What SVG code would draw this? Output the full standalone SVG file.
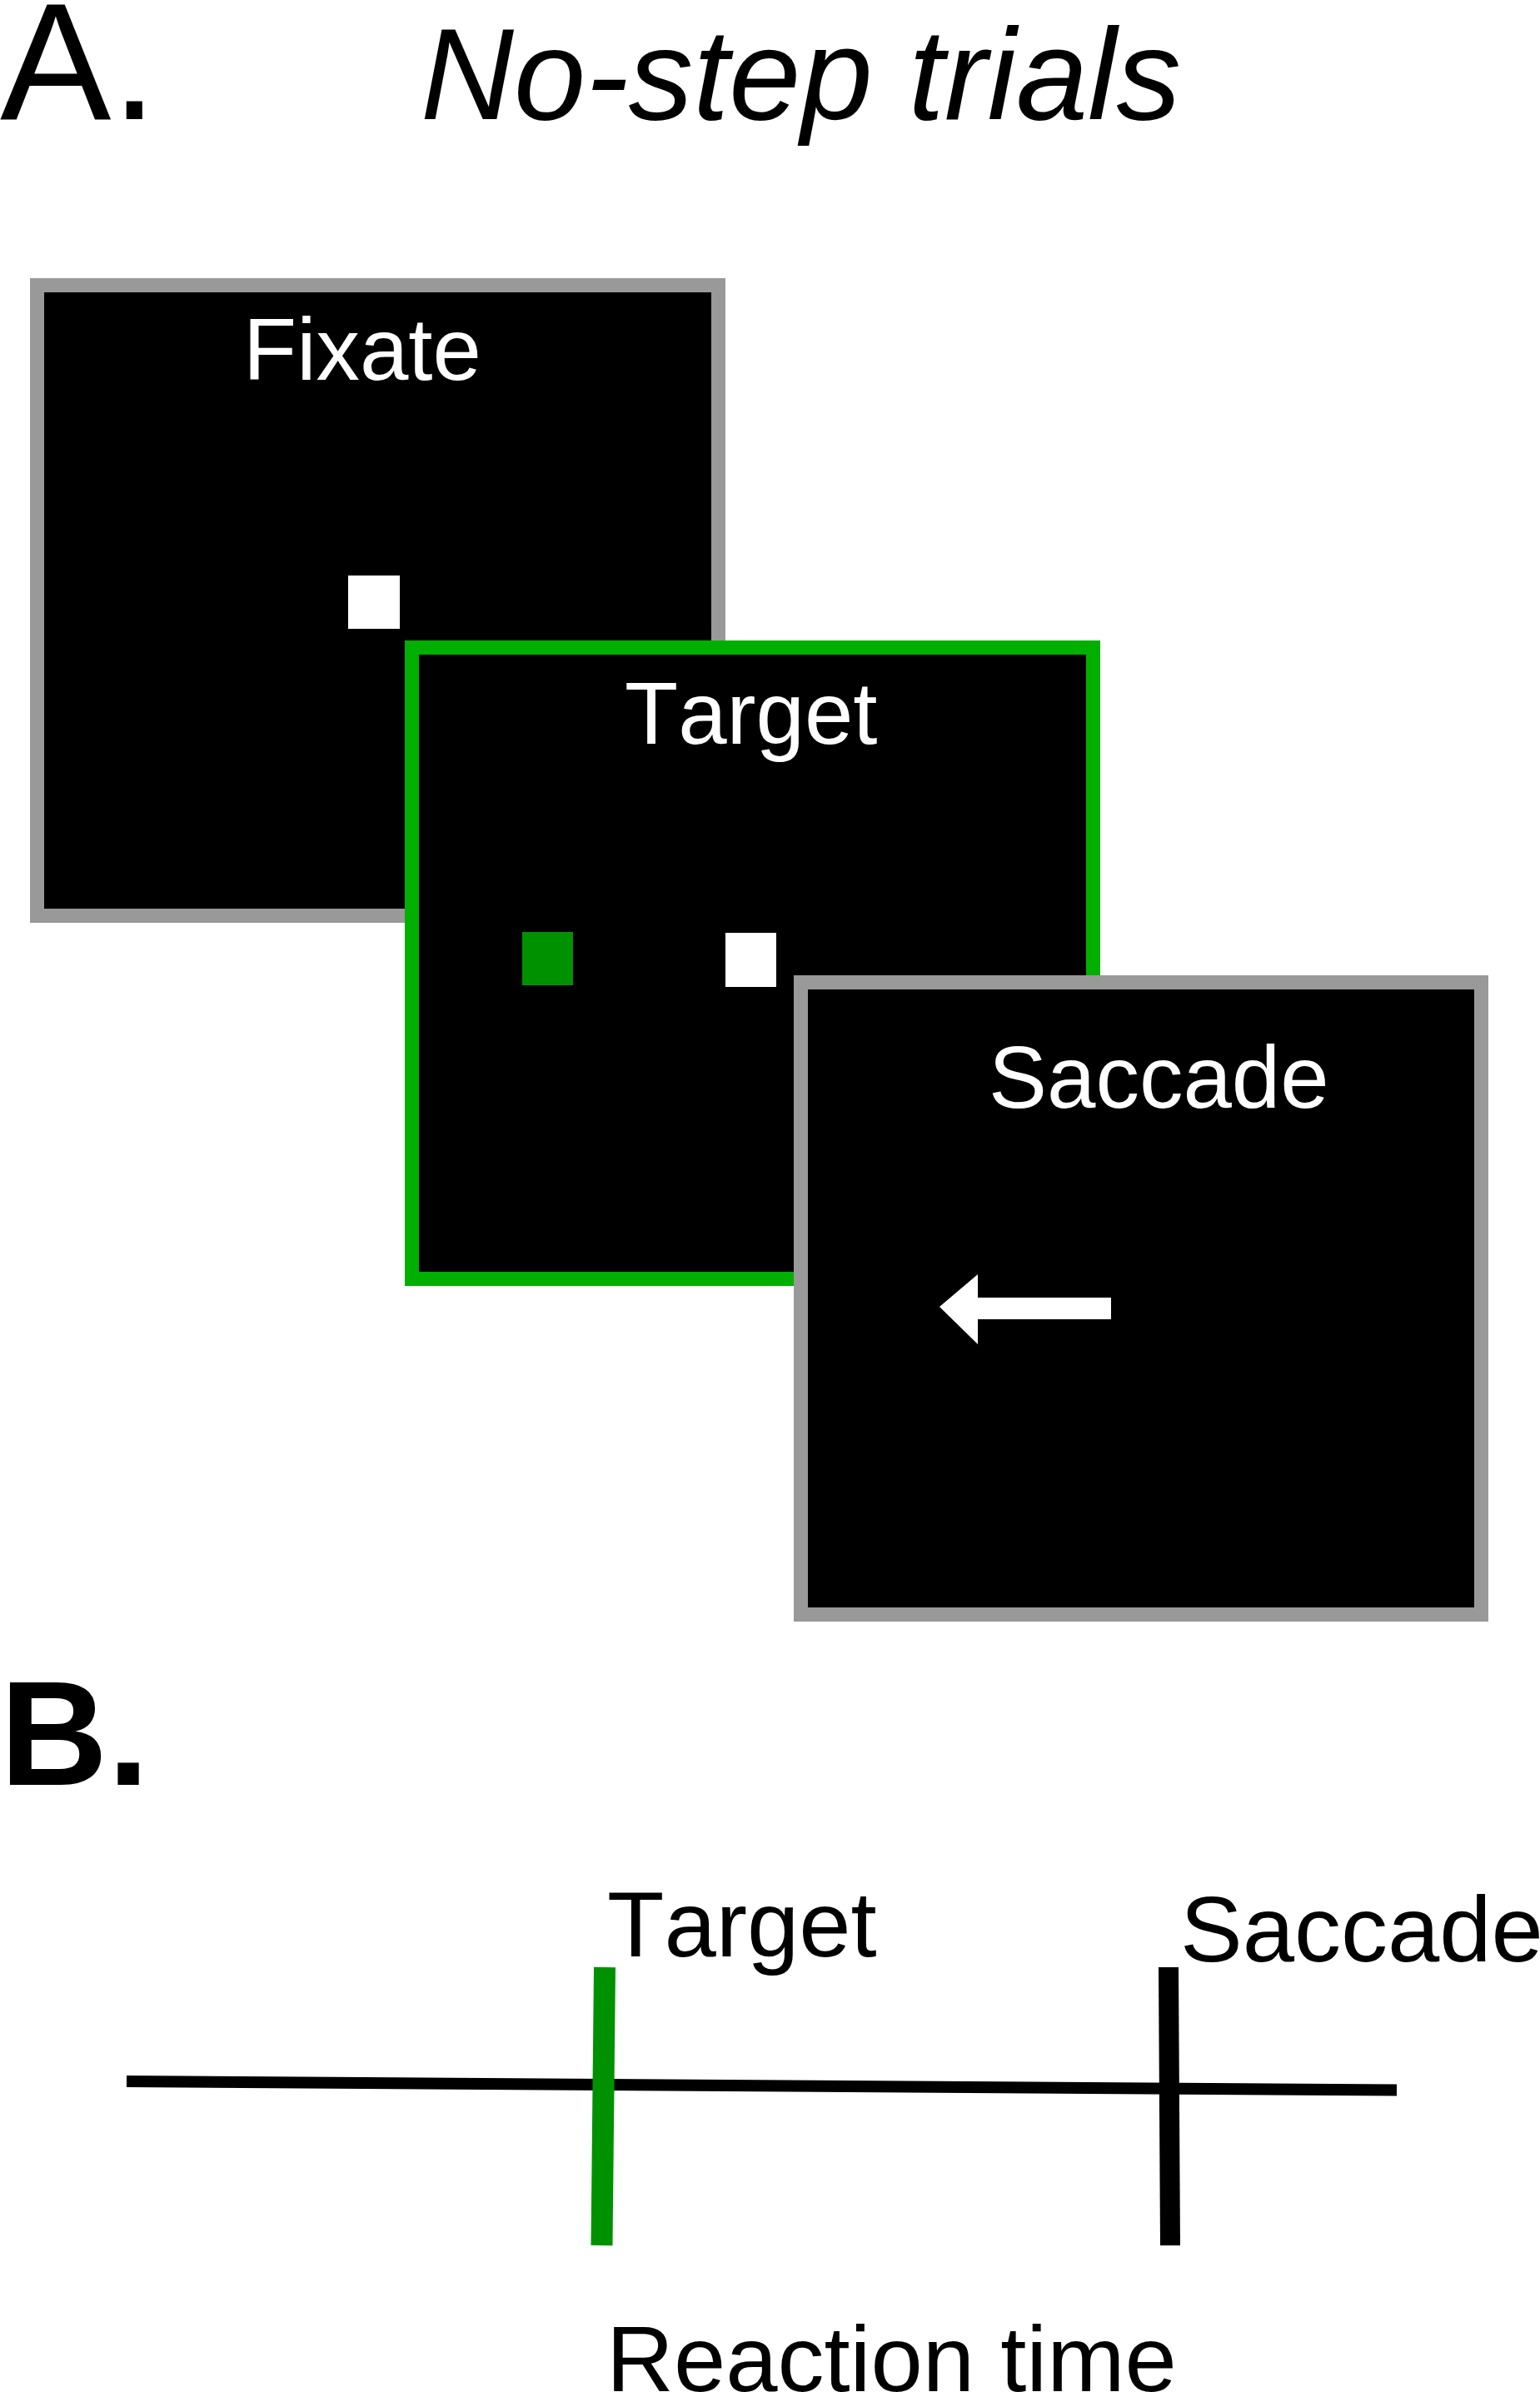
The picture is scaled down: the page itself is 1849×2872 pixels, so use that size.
<svg xmlns="http://www.w3.org/2000/svg" width="1849" height="2872" viewBox="0 0 1849 2872">
<style>
.lbl{font-family:"Liberation Sans",Arial,sans-serif;font-kerning:none;}
.scr{fill:#000;stroke-width:17;}
.gray{stroke:#999999;}
.grn{stroke:#00AF00;}
.wt{fill:#fff;font-size:105px;}
.bt{fill:#000;font-size:112px;}
</style>
<rect width="1849" height="2872" fill="#fff"/>
<g id="titles">
<text class="lbl" x="0" y="143" font-size="200">A.</text>
<text class="lbl" x="505" y="143" font-size="155" font-style="italic">No-step trials</text>
<text class="lbl" x="0" y="2143" font-size="179" font-weight="bold">B.</text>
</g>
<g id="fixate">
<rect class="scr gray" x="44.5" y="342.5" width="818" height="757"/>
<text class="lbl wt" x="292" y="456">Fixate</text>
<rect x="418" y="691" width="62" height="64" fill="#fff"/>
</g>
<g id="target">
<rect class="scr grn" x="494.5" y="777.5" width="818" height="758"/>
<text class="lbl wt" x="750" y="893">Target</text>
<rect x="627" y="1119" width="61" height="64" fill="#009100"/>
<rect x="871" y="1120" width="61" height="65" fill="#fff"/>
</g>
<g id="saccade">
<rect class="scr gray" x="961.5" y="1179.5" width="817" height="759"/>
<text class="lbl wt" x="1187" y="1330">Saccade</text>
<polygon points="1128,1569 1174,1530 1174,1558 1334,1558 1334,1584 1174,1584 1174,1614" fill="#fff"/>
</g>
<g id="connectors">
<line x1="152" y1="2499" x2="1677" y2="2509.5" stroke="#000" stroke-width="14"/>
<line x1="726" y1="2362" x2="722.5" y2="2696" stroke="#009100" stroke-width="26"/>
<line x1="1403" y1="2362" x2="1405" y2="2696" stroke="#000" stroke-width="24"/>
</g>
<g id="timeline-labels">
<text class="lbl bt" x="729" y="2349">Target</text>
<text class="lbl bt" x="1417" y="2355">Saccade</text>
<text class="lbl bt" x="728" y="2871">Reaction time</text>
</g>
</svg>
